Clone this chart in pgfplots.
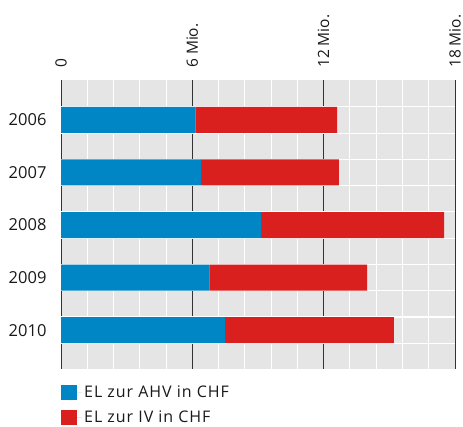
\documentclass[border=0pt]{standalone}
\usepackage{pgfplots}
\pgfplotsset{compat=1.18}
\usepackage{fontspec}
\setmainfont{Open Sans}
\newfontfamily\legfont[LetterSpace=6]{Open Sans}
\definecolor{ahv}{HTML}{0086C5}
\definecolor{iv}{HTML}{DA1F1F}
\definecolor{bg}{HTML}{E5E5E5}
\begin{document}
\begin{tikzpicture}[x=1pt,y=1pt]
\useasboundingbox (0,0) rectangle (463,426);
\begin{axis}[
  at={(61pt,57pt)}, anchor=south west,
  scale only axis, width=394pt, height=289pt,
  xbar stacked, bar width=26pt,
  xmin=0, xmax=18, ymin=-0.76, ymax=4.74, y dir=reverse,
  axis background/.style={fill=bg},
  axis line style={draw=none},
  tick style={draw=none},
  xtick={0,6,12,18},
  xticklabels={0,6 Mio.,12 Mio.,18 Mio.},
  xticklabel pos=upper,
  xticklabel style={rotate=90, anchor=west, inner sep=1pt, font=\fontsize{15.5}{18}\selectfont},
  xticklabel shift=11pt,
  minor xtick={1.2,2.4,3.6,4.8,7.2,8.4,9.6,10.8,13.2,14.4,15.6,16.8},
  xmajorgrids, xminorgrids,
  ytick={0,1,2,3,4},
  yticklabels={2006,2007,2008,2009,2010},
  yticklabel shift=11pt,
  yticklabel style={font=\fontsize{16.5}{19}\selectfont},
  minor ytick={-0.25,0.25,0.75,1.25,1.75,2.25,2.75,3.25,3.75,4.25},
  yminorgrids,
  major grid style={black!80, line width=0.9pt},
  minor grid style={white, line width=1.1pt},
  tick label style={text=black!90},
  /pgf/number format/assume math mode=true,
  legend style={at={(0,0)}, anchor=north west, yshift=-15pt, draw=none, fill=none,
    font=\legfont\fontsize{16}{19}\selectfont, row sep=7.5pt, inner sep=0pt, text=black!90},
  legend cell align=left,
  legend image code/.code={\fill[#1] (0pt,-7.5pt) rectangle (16pt,7.5pt); \path (0pt,0pt) -- (21pt,0pt);},
]
\addplot[fill=ahv, draw=none] coordinates {(6.15,0) (6.40,1) (9.14,2) (6.79,3) (7.49,4)};
\addplot[fill=iv, draw=none] coordinates {(6.46,0) (6.30,1) (8.36,2) (7.19,3) (7.72,4)};
\legend{EL zur AHV in CHF, EL zur IV in CHF}
\end{axis}
\end{tikzpicture}
\end{document}
